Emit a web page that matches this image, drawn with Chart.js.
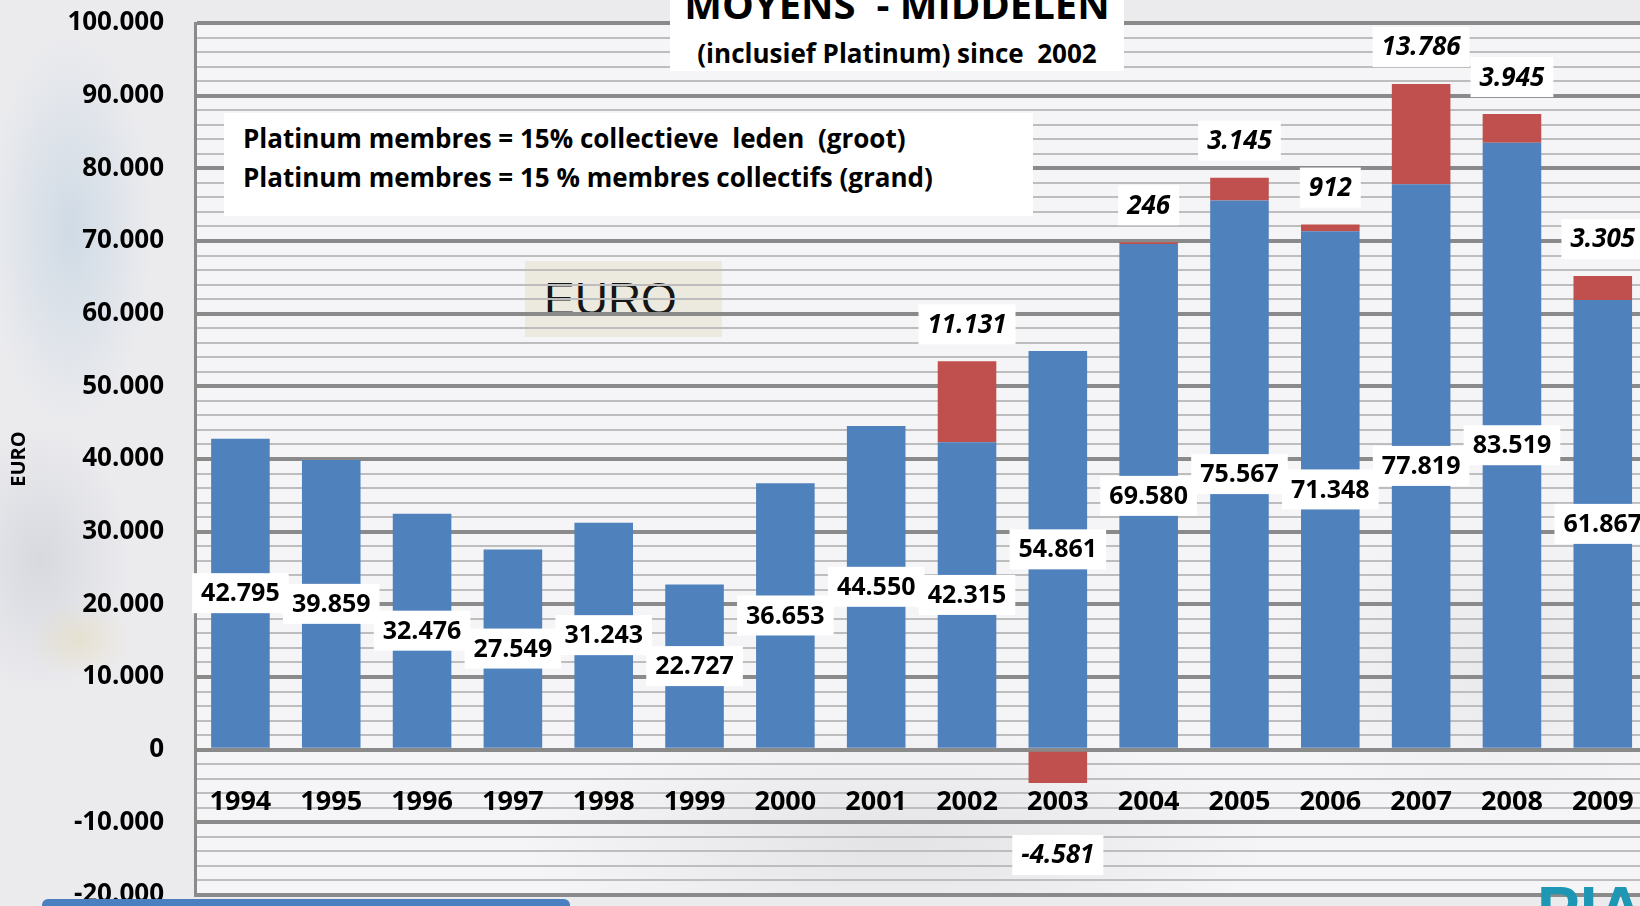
<!DOCTYPE html>
<html>
<head>
<meta charset="utf-8">
<script src="https://cdn.jsdelivr.net/npm/chart.js@4/dist/chart.umd.min.js"></script>
<style>
html,body{margin:0;padding:0;width:1640px;height:906px;overflow:hidden;}
body{position:relative;font-family:'Open Sans',sans-serif;
 background:
  radial-gradient(ellipse 110px 260px at 70px 230px, rgba(185,205,222,0.55), rgba(185,205,222,0) 75%),
  radial-gradient(ellipse 70px 50px at 80px 640px, rgba(232,214,160,0.35), rgba(232,214,160,0) 75%),
  radial-gradient(ellipse 120px 180px at 40px 560px, rgba(170,175,190,0.30), rgba(170,175,190,0) 75%),
  #ebebee;}
#plotbg{position:absolute;left:195px;top:23px;width:1460px;height:871px;
 background:
  radial-gradient(ellipse 500px 160px at 700px 820px, rgba(210,210,214,0.5), rgba(210,210,214,0) 75%),
  radial-gradient(ellipse 300px 200px at 1300px 640px, rgba(215,215,220,0.4), rgba(215,215,220,0) 75%),
  #f5f5f7;}
#eurobox{position:absolute;left:525px;top:261px;width:197px;height:76px;background:#ece9de;}
#eurotxt{position:absolute;left:19px;top:15px;font-family:'Liberation Sans',Arial,sans-serif;font-size:46px;line-height:46px;color:#161616;}
#wrap{position:absolute;left:0;top:0;width:1670px;height:906px;}
#c{position:absolute;left:0;top:0;}
#titlebox{position:absolute;left:670px;top:0;width:454px;height:71px;background:#fff;}
#t1{position:absolute;left:0;width:454px;top:-16px;text-align:center;font-weight:700;font-size:40px;line-height:40px;white-space:pre;color:#000;}
#t2{position:absolute;left:0;width:454px;top:40px;text-align:center;font-weight:700;font-size:26px;line-height:26px;white-space:pre;color:#000;}
#platbox{position:absolute;left:224px;top:113px;width:809px;height:103px;background:#fff;}
.pl{position:absolute;left:19px;font-weight:700;font-size:26px;line-height:26px;white-space:pre;color:#000;}
#bluebar{position:absolute;left:42px;top:899px;width:528px;height:14px;background:#4a7fc0;border-radius:6px;}
#logo{position:absolute;left:1537px;top:878px;font-family:'Liberation Sans',Arial,sans-serif;font-weight:700;font-size:64px;line-height:64px;color:#1d97b3;}
</style>
</head>
<body>
<div id="plotbg"></div>
<div id="eurobox"><span id="eurotxt">EURO</span></div>
<div id="wrap"><canvas id="c" width="1670" height="906"></canvas></div>
<div id="titlebox"><div id="t1">MOYENS  - MIDDELEN</div><div id="t2">(inclusief Platinum) since  2002</div></div>
<div id="platbox"><div class="pl" style="top:12px">Platinum membres = 15% collectieve  leden  (groot)</div><div class="pl" style="top:51px">Platinum membres = 15 % membres collectifs (grand)</div></div>
<div id="bluebar"></div>
<div id="logo">PIA</div>
<script>
const years = ['1994','1995','1996','1997','1998','1999','2000','2001','2002','2003','2004','2005','2006','2007','2008','2009'];
const baseValues = [42795, 39859, 32476, 27549, 31243, 22727, 36653, 44550, 42315, 54861, 69580, 75567, 71348, 77819, 83519, 61867];
const platinumValues = [null, null, null, null, null, null, null, null, 11131, -4581, 246, 3145, 912, 13786, 3945, 3305];
const yMin = -20000;
const yMax = 100000;
const minorStep = 2000;
const majorStep = 10000;
const yAxisTitle = 'EURO';

function fmt(v) {
  const s = Math.abs(Math.round(v)).toString().replace(/\B(?=(\d{3})+(?!\d))/g, '.');
  return (v < 0 ? '-' : '') + s;
}

const labelPlugin = {
  id: 'valueLabels',
  afterDatasetsDraw(chart) {
    const ctx = chart.ctx;
    const m0 = chart.getDatasetMeta(0);
    const m1 = chart.getDatasetMeta(1);
    ctx.save();
    ctx.textAlign = 'center';
    ctx.textBaseline = 'middle';
    function box(text, x, y, font) {
      ctx.font = font;
      const w = ctx.measureText(text).width + 18;
      const h = 40;
      ctx.fillStyle = '#ffffff';
      ctx.fillRect(x - w / 2, y - h / 2, w, h);
      ctx.fillStyle = '#000000';
      ctx.fillText(text, x, y + 1);
    }
    baseValues.forEach((v, i) => {
      const el = m0.data[i];
      box(fmt(v), el.x, (el.y + el.base) / 2, 'bold 25px "Open Sans"');
    });
    platinumValues.forEach((v, i) => {
      if (v === null) return;
      const el = m1.data[i];
      const y = v >= 0 ? el.y - 37 : el.y + 72;
      box(fmt(v), el.x, y, 'italic bold 26px "Open Sans"');
    });
    ctx.restore();
  }
};

Chart.defaults.font.family = "'Open Sans', sans-serif";

new Chart(document.getElementById('c'), {
  type: 'bar',
  data: {
    labels: years,
    datasets: [
      { label: 'Middelen', data: baseValues, backgroundColor: '#4f81bd', borderWidth: 0, barPercentage: 0.645, categoryPercentage: 1 },
      { label: 'Platinum', data: platinumValues, backgroundColor: '#c0504d', borderWidth: 0, barPercentage: 0.645, categoryPercentage: 1 }
    ]
  },
  options: {
    responsive: false,
    animation: false,
    devicePixelRatio: 1,
    layout: { padding: { left: 0, top: 23, right: 11, bottom: 11 } },
    plugins: { legend: { display: false }, tooltip: { enabled: false } },
    scales: {
      x: {
        stacked: true,
        position: { y: 0 },
        grid: { display: false, drawTicks: false },
        border: { display: false },
        ticks: { padding: 36, color: '#000', autoSkip: false, maxRotation: 0, font: { size: 27, weight: 'bold' } }
      },
      y: {
        stacked: true,
        min: yMin,
        max: yMax,
        afterFit(s) { s.width = 195; },
        afterBuildTicks(s) {
          const t = [];
          for (let v = yMin; v <= yMax; v += minorStep) t.push({ value: v });
          s.ticks = t;
        },
        ticks: {
          autoSkip: false,
          padding: 0,
          color: '#000',
          font: { size: 26, weight: 'bold', lineHeight: 0.8 },
          callback: v => (v % majorStep === 0 ? fmt(v) : '')
        },
        grid: {
          drawTicks: true,
          tickLength: 31,
          tickColor: 'rgba(0,0,0,0)',
          color: c => (c.tick && c.tick.value % majorStep === 0 ? '#8a8a8a' : '#bdbdbd'),
          lineWidth: c => (c.tick && c.tick.value % majorStep === 0 ? 4 : 2)
        },
        border: { display: true, color: '#8a8a8a', width: 3 },
        title: { display: true, text: yAxisTitle, color: '#000', font: { size: 20, weight: 'bold' }, padding: { top: 7, bottom: 0 } }
      }
    }
  },
  plugins: [labelPlugin]
});
</script>
</body>
</html>
